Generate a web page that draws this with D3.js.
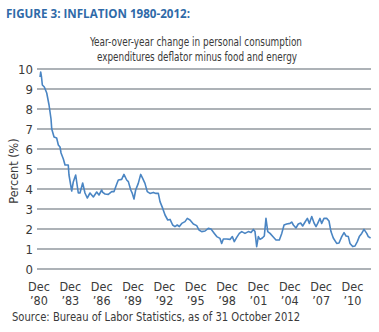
<!DOCTYPE html>
<html lang="en">
<head>
<meta charset="UTF-8">
<title>Inflation 1980-2012</title>
<style>
    body { margin: 0; background: #fff; }
    svg text { font-family: "Liberation Sans Narrow", "DejaVu Sans Condensed", "Roboto", sans-serif; fill: #3a3a3a; }
    .title { font-family: "Open Sans", "Liberation Sans", sans-serif !important; font-weight: bold; fill: #2f6aa8 !important; }
</style>
<script src="https://d3js.org/d3.v7.min.js"></script>
</head>
<body>
<div id="chart"></div>
<script>
    // decimal year of each reading, and the core PCE inflation value (%)
    const years = [
        1981.02, 1981.08, 1981.16, 1981.24, 1981.43, 1981.66, 1981.88, 1982.07, 1982.14, 1982.36,
        1982.61, 1982.77, 1982.93, 1983.03, 1983.25, 1983.41, 1983.72, 1983.79, 1984.05, 1984.20,
        1984.43, 1984.68, 1984.84, 1985.10, 1985.32, 1985.54, 1985.80, 1986.12, 1986.44, 1986.66,
        1986.92, 1987.02, 1987.24, 1987.55, 1987.88, 1988.10, 1988.36, 1988.51, 1988.83, 1989.05,
        1989.31, 1989.47, 1989.70, 1989.85, 1990.01, 1990.17, 1990.42, 1990.65, 1990.84, 1991.06,
        1991.28, 1991.54, 1991.86, 1992.12, 1992.34, 1992.50, 1992.76, 1992.98, 1993.24, 1993.46,
        1993.71, 1993.93, 1994.15, 1994.35, 1994.58, 1994.89, 1995.11, 1995.37, 1995.69, 1996.01,
        1996.23, 1996.49, 1996.81, 1997.12, 1997.38, 1997.70, 1997.93, 1998.24, 1998.40, 1998.56,
        1998.88, 1999.20, 1999.42, 1999.61, 1999.84, 2000.09, 2000.32, 2000.63, 2000.95, 2001.21,
        2001.43, 2001.59, 2001.75, 2001.91, 2002.07, 2002.29, 2002.48, 2002.64, 2002.81, 2003.03,
        2003.34, 2003.60, 2003.92, 2004.15, 2004.37, 2004.62, 2004.94, 2005.10, 2005.26, 2005.51,
        2005.73, 2005.96, 2006.15, 2006.38, 2006.60, 2006.79, 2007.02, 2007.24, 2007.43, 2007.59,
        2007.81, 2007.97, 2008.19, 2008.45, 2008.67, 2008.86, 2009.08, 2009.41, 2009.63, 2009.89,
        2010.11, 2010.30, 2010.52, 2010.68, 2010.94, 2011.16, 2011.38, 2011.57, 2011.80, 2012.02,
        2012.28, 2012.43, 2012.65
    ];
    const values = [
        9.6, 9.85, 9.6, 9.2, 9.1, 8.8, 8.2, 7.5, 7.0, 6.6,
        6.55, 6.2, 6.1, 5.8, 5.5, 5.2, 5.2, 4.7, 3.9, 4.35,
        4.7, 3.8, 3.8, 4.3, 3.8, 3.55, 3.8, 3.6, 3.85, 3.7,
        3.95, 3.83, 3.75, 3.73, 3.87, 3.87, 4.25, 4.45, 4.48, 4.73,
        4.45, 4.37, 3.95, 3.78, 3.5, 3.95, 4.28, 4.73, 4.53, 4.28,
        3.87, 3.78, 3.83, 3.78, 3.78, 3.37, 3.03, 2.7, 2.45, 2.48,
        2.2, 2.12, 2.2, 2.12, 2.28, 2.37, 2.53, 2.45, 2.25, 2.17,
        1.95, 1.87, 1.9, 2.03, 2.0, 1.78, 1.62, 1.53, 1.28, 1.5,
        1.5, 1.48, 1.62, 1.37, 1.58, 1.78, 1.87, 1.78, 1.87, 1.83,
        1.98, 1.87, 1.12, 1.62, 1.48, 1.55, 1.65, 2.53, 1.87, 1.78,
        1.6, 1.45, 1.45, 1.78, 2.2, 2.25, 2.28, 2.35, 2.2, 2.05,
        2.25, 2.3, 2.15, 2.35, 2.53, 2.28, 2.62, 2.3, 2.12, 2.28,
        2.53, 2.28, 2.53, 2.53, 2.4, 1.87, 1.55, 1.28, 1.3, 1.62,
        1.82, 1.65, 1.62, 1.28, 1.12, 1.15, 1.37, 1.62, 1.78, 1.98,
        1.78, 1.62, 1.55
    ];
    const tickYears = [1980, 1983, 1986, 1989, 1992, 1995, 1998, 2001, 2004, 2007, 2010];
    const yTicks = [0, 1, 2, 3, 4, 5, 6, 7, 8, 9, 10];

    const W = 379, H = 332;
    const svg = d3.select("#chart").append("svg").attr("width", W).attr("height", H);

    // December of each year sits at year + 0.92
    const x = d3.scaleLinear().domain([1980.92, 2010.92]).range([39, 352.5]);
    const y = d3.scaleLinear().domain([0, 10]).range([269, 69]);

    // title + subtitle
    svg.append("text").attr("class", "title")
        .attr("x", 6).attr("y", 17.5)
        .style("font-size", "11.6px")
        .attr("textLength", 184).attr("lengthAdjust", "spacingAndGlyphs")
        .text("FIGURE 3: INFLATION 1980-2012:");
    svg.append("text").attr("x", 90).attr("y", 46)
        .style("font-size", "12.5px")
        .attr("textLength", 212).attr("lengthAdjust", "spacingAndGlyphs")
        .text("Year-over-year change in personal consumption");
    svg.append("text").attr("x", 97).attr("y", 61)
        .style("font-size", "12.5px")
        .attr("textLength", 200).attr("lengthAdjust", "spacingAndGlyphs")
        .text("expenditures deflator minus food and energy");

    // gridlines
    svg.append("g").selectAll("line").data(yTicks).join("line")
        .attr("x1", 37).attr("x2", 371)
        .attr("y1", d => y(d)).attr("y2", d => y(d))
        .attr("stroke", "#5c6770").attr("stroke-width", 1.2);

    // y tick labels
    svg.append("g").selectAll("text").data(yTicks).join("text")
        .attr("x", 33).attr("y", d => y(d) + 4.5)
        .attr("text-anchor", "end")
        .style("font-size", "13px")
        .text(d => d);

    svg.append("text")
        .attr("transform", "translate(18,171) rotate(-90)")
        .attr("text-anchor", "middle")
        .style("font-size", "12.5px")
        .text("Percent (%)");

    // x tick labels, two lines
    const xt = svg.append("g").selectAll("text").data(tickYears).join("text")
        .attr("text-anchor", "middle")
        .style("font-size", "12.5px");
    xt.append("tspan").attr("x", d => x(d + 0.92)).attr("y", 291).text("Dec");
    xt.append("tspan").attr("x", d => x(d + 0.92)).attr("y", 305)
        .text(d => "\u2019" + String(d).slice(2));

    // series
    const line = d3.line().x((d, i) => x(years[i])).y(d => y(d));
    svg.append("path")
        .datum(values)
        .attr("d", line)
        .attr("fill", "none")
        .attr("stroke", "#4a85c3")
        .attr("stroke-width", 1.6)
        .attr("stroke-linejoin", "round");

    // source
    svg.append("text").attr("x", 12).attr("y", 321)
        .style("font-size", "12.5px")
        .attr("textLength", 288).attr("lengthAdjust", "spacingAndGlyphs")
        .text("Source: Bureau of Labor Statistics, as of 31 October 2012");
</script>
</body>
</html>
